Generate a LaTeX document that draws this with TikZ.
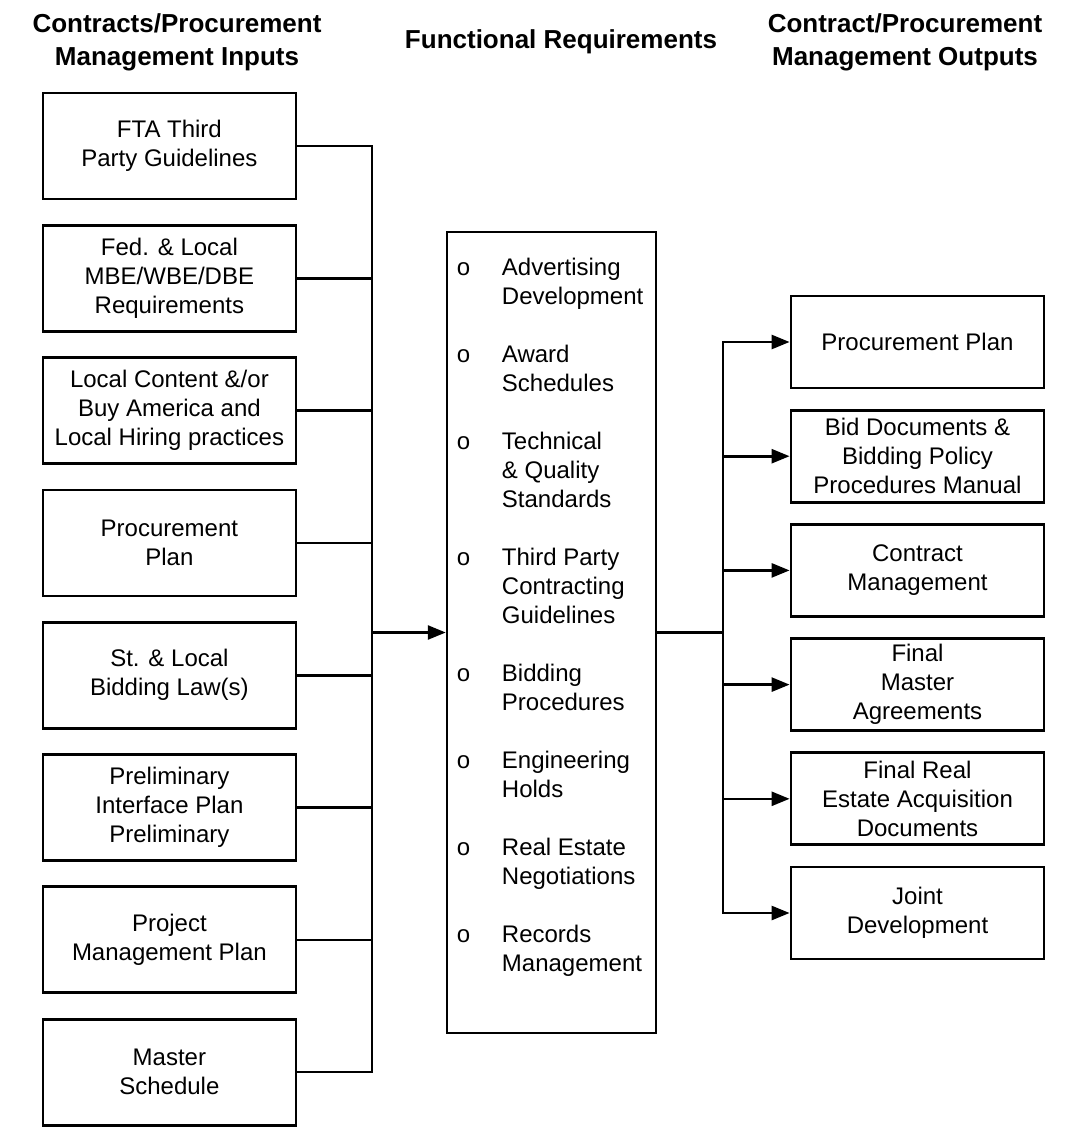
\documentclass[tikz,border=0pt]{standalone}
\usepackage{fontspec}
\setmainfont{Liberation Sans}
\usetikzlibrary{arrows.meta}

\begin{document}
\begin{tikzpicture}[x=1pt, y=-1pt,
    inbox/.style={draw, line width=2.8pt, minimum width=253pt, minimum height=106pt,
      align=center, font=\fontsize{24}{29}\selectfont},
    outbox/.style={draw, line width=2.8pt, minimum width=253pt, minimum height=92pt,
      align=center, font=\fontsize{24}{29}\selectfont},
    funcbox/.style={draw, line width=2.5pt, minimum width=209pt, minimum height=801pt},
    heading/.style={align=center, inner sep=0pt, font=\fontsize{26}{33}\selectfont\bfseries},
    link/.style={line width=2.6pt, line cap=rect},
    feed/.style={link, -{Triangle[length=18pt, width=14pt]}}]

  \useasboundingbox (0,0) rectangle (1078,1127);

  % Column headings
  \node[heading] (inhead) at (177,42) {Contracts/Procurement\\Management Inputs};
  \node[heading] (funchead) at (561,42) {Functional Requirements};
  \node[heading] (outhead) at (905,42) {Contract/Procurement\\Management Outputs};

  % Inputs
  \foreach \name/\txt [count=\i] in {
      fta/{FTA Third\\Party Guidelines},
      mbe/{Fed. \& Local\\MBE/WBE/DBE\\Requirements},
      content/{Local Content \&/or\\Buy America and\\Local Hiring practices},
      procin/{Procurement\\Plan},
      law/{St. \& Local\\Bidding Law(s)},
      interface/{Preliminary\\Interface Plan\\Preliminary},
      pmp/{Project\\Management Plan},
      sched/{Master\\Schedule}}
    \node[inbox] (\name) at (169.4,{146+(\i-1)*132.3}) {\txt};

  % Functional requirements
  \node[funcbox] (func) at (551.5,632.5) {};
  \node[anchor=north west, inner sep=0pt, font=\fontsize{24}{29}\selectfont] (funclist)
    at ([shift={(11pt,-24.7pt)}]func.north west) {%
    \begin{tabular}{@{}p{45pt}@{}l@{}}
      o & Advertising\\ & Development\\[29pt]
      o & Award\\ & Schedules\\[29pt]
      o & Technical\\ & \& Quality\\ & Standards\\[29pt]
      o & Third Party\\ & Contracting\\ & Guidelines\\[29pt]
      o & Bidding\\ & Procedures\\[29pt]
      o & Engineering\\ & Holds\\[29pt]
      o & Real Estate\\ & Negotiations\\[29pt]
      o & Records\\ & Management
    \end{tabular}};

  % Outputs
  \foreach \name/\txt [count=\i] in {
      procout/{Procurement Plan},
      bid/{Bid Documents \&\\Bidding Policy\\Procedures Manual},
      contract/{Contract\\Management},
      master/{Final\\Master\\Agreements},
      estate/{Final Real\\Estate Acquisition\\Documents},
      joint/{Joint\\Development}}
    \node[outbox] (\name) at (917.5,{342+(\i-1)*114.2}) {\txt};

  % Input bus
  \coordinate (inbus) at (372,632.5);
  \draw[link] (fta.east) -| (sched.east -| inbus) -- (sched.east);
  \foreach \name in {mbe,content,procin,law,interface,pmp}
    \draw[link] (\name.east) -- (\name.east -| inbus);
  \draw[feed] (inbus) -- (func.west);

  % Output bus
  \coordinate (outbus) at (723,632.5);
  \draw[link] (func.east) -- (outbus);
  \draw[feed] (joint.west -| outbus) |- (procout.west);
  \foreach \name in {bid,contract,master,estate,joint}
    \draw[feed] (\name.west -| outbus) -- (\name.west);
\end{tikzpicture}
\end{document}
